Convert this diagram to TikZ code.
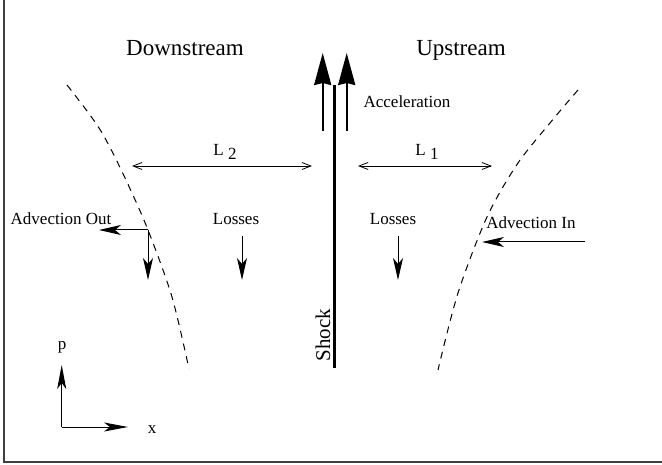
\documentclass[tikz,border=0pt]{standalone}
\usepackage{fontspec}
\setmainfont{Liberation Serif}
\usetikzlibrary{arrows.meta}

\begin{document}
\begin{tikzpicture}[x=1pt,y=-1pt]
  \tikzstyle{lbl}=[inner sep=0pt,anchor=base,font=\fontsize{17}{20}\selectfont]
  \tikzstyle{region}=[inner sep=0pt,anchor=base,font=\fontsize{23}{27}\selectfont]
  \tikzstyle{flux}=[-{Stealth[length=22pt,width=10pt,inset=6pt]},line width=1pt]
  \tikzstyle{accel}=[-{Stealth[length=32pt,width=17pt,inset=2pt]},line width=2.3pt]
  \tikzstyle{axis}=[-{Stealth[length=24pt,width=9pt,inset=6pt]},line width=1pt]
  \tikzstyle{span}=[{Straight Barb[length=9pt,width=7pt]}-{Straight Barb[length=9pt,width=7pt]},line width=0.8pt]
  \tikzstyle{front}=[dash pattern=on 7pt off 6pt,line width=1pt]

  \useasboundingbox (0,0) rectangle (662,465);
  \draw[line width=1.5pt,black!75] (4,0) -- (4,462) -- (662,462);

  % region labels
  \node[region] (down) at (185,56) {Downstream};
  \node[region] (up) at (461,56) {Upstream};

  % shock and acceleration
  \coordinate (shtop) at (334,85);
  \coordinate (shbot) at (334,368);
  \draw[line width=3pt] (shbot) -- (shtop);
  \node[inner sep=0pt,anchor=base,rotate=90,font=\fontsize{21}{25}\selectfont] (shock) at (330,335) {Shock};
  \coordinate (acc1s) at (322.7,131);
  \coordinate (acc1e) at (322.7,53);
  \coordinate (acc2s) at (346.7,131);
  \coordinate (acc2e) at (346.7,53);
  \draw[accel] (acc1s) -- (acc1e);
  \draw[accel] (acc2s) -- (acc2e);
  \node[lbl] (acc) at (407,108) {Acceleration};

  % diffusion lengths
  \coordinate (l2a) at (132,166);
  \coordinate (l2b) at (312,166);
  \coordinate (l1a) at (358,166);
  \coordinate (l1b) at (492,166);
  \draw[span] (l2a) -- (l2b);
  \draw[span] (l1a) -- (l1b);
  \node[lbl] (l2) at (225,156) {L \raisebox{-4pt}{2}};
  \node[lbl] (l1) at (427,156) {L \raisebox{-4pt}{1}};

  % escape boundaries
  \draw[front] plot[smooth] coordinates {(67,85) (90,115) (105,138) (126,180) (148,230) (172,297) (189,369)};
  \draw[front] plot[smooth] coordinates {(578,90) (555,117) (518,163) (487,217) (458,293) (438,370)};

  % advection out
  \node[lbl] (aout) at (61,225) {Advection Out};
  \coordinate (aoc) at (148,230);
  \coordinate (aol) at (99,230);
  \coordinate (aod) at (148,280);
  \draw[flux] (aoc) -- (aol);
  \draw[flux] (aoc) -- (aod);

  % losses
  \node[lbl] (loss2) at (236,225) {Losses};
  \node[lbl] (loss1) at (393,225) {Losses};
  \coordinate (ls2) at (242,236);
  \coordinate (le2) at (242,280);
  \coordinate (ls1) at (398,236);
  \coordinate (le1) at (398,280);
  \draw[flux] (ls2) -- (le2);
  \draw[flux] (ls1) -- (le1);

  % advection in
  \node[lbl] (ain) at (531,229) {Advection In};
  \coordinate (ais) at (585,242);
  \coordinate (aie) at (482,242);
  \draw[flux] (ais) -- (aie);

  % axes
  \coordinate (org) at (61.7,427);
  \coordinate (ptip) at (61.7,365);
  \coordinate (xtip) at (128,427);
  \draw[axis] (org) -- (ptip);
  \draw[axis] (org) -- (xtip);
  \node[lbl] (plab) at (62,350) {p};
  \node[lbl] (xlab) at (152,433) {x};
\end{tikzpicture}
\end{document}
